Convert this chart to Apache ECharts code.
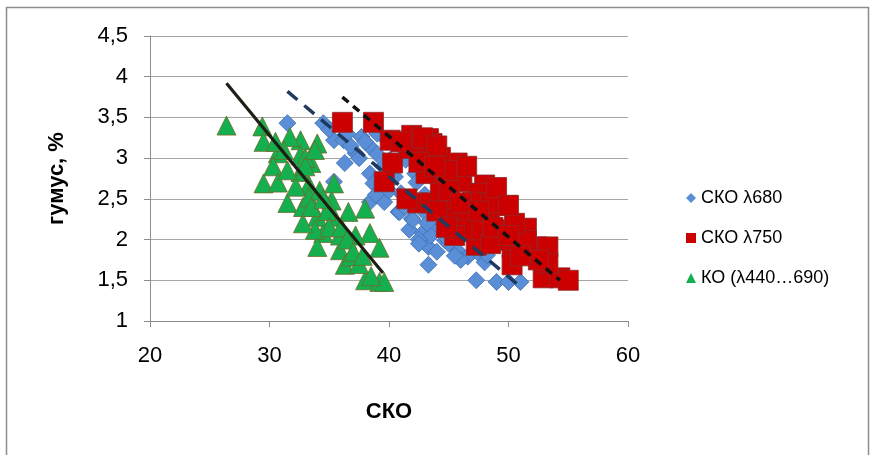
<!DOCTYPE html>
<html><head><meta charset="utf-8">
<script src="https://cdn.jsdelivr.net/npm/echarts@6/dist/echarts.min.js"></script>
<style>html,body{margin:0;padding:0;background:#fff}#c{width:873px;height:455px}</style>
</head><body><div id="c"></div>
<script>
const xTicks = [20, 30, 40, 50, 60];
const yTicks = [1, 1.5, 2, 2.5, 3, 3.5, 4, 4.5];
const seriesNames = ['СКО λ680', 'СКО λ750', 'КО (λ440…690)'];
const sko680 = [[31.5,3.43],[34.5,3.43],[35.4,3.22],[36.2,3.22],[37.7,3.26],[37.2,3.06],[38.4,3.14],[36.3,2.94],[38.4,2.81],[38.7,2.69],[35.4,2.71],[38.4,2.46],[39.6,2.46],[40.1,2.98],[40.5,2.77],[41,2.57],[40.8,2.34],[41.9,2.26],[41.7,2.12],[42.8,2.08],[43.3,1.91],[43.3,1.69],[44.2,2.15],[44.7,1.99],[45.7,1.87],[46.6,1.79],[47.5,1.83],[47.3,1.5],[49,1.48],[50,1.48],[51,1.48],[48,1.72],[42.8,2.36],[43.8,2.4],[41.9,2.48],[42.2,2.81],[42.3,2.7],[39.8,3.22],[41,3.14],[41.4,2.98],[45.2,2.15],[46.1,2.08],[45.7,2.24],[44.2,2.3],[35,3.35],[36.8,3.15],[39,3.05],[39.5,2.9],[37.5,3.0],[42,2.24],[40.9,2.34],[43.5,2.05],[44,1.85],[45,1.95],[46,1.75],[48.2,1.81],[42.5,2.0],[47,2.0],[43,2.55],[44.5,2.2],[38,3.2],[39,3.3],[36.5,3.3],[40,2.6],[41.3,2.4],[43.2,2.2],[44.6,2.05],[45.5,1.8],[42.5,1.95],[38.9,2.55]];
const sko750 = [[36.1,3.44],[38.7,3.44],[40.1,3.22],[41.9,3.28],[43.3,3.24],[40.3,2.94],[39.6,2.71],[45.7,2.94],[43.1,2.81],[44.7,2.73],[46.1,2.71],[48,2.67],[47.5,2.57],[42.4,2.45],[43.5,2.45],[45.4,2.33],[46.6,2.33],[49.9,2.42],[48.4,2.28],[51.5,2.14],[52.4,1.91],[50.3,1.9],[50.3,1.69],[52.9,1.53],[54.3,1.53],[55,1.5],[47.3,1.93],[47.5,2.12],[49.1,2.12],[46.1,2.12],[44.3,3.01],[42.8,3.1],[43.6,3.18],[44.3,2.57],[45.1,2.5],[49.4,1.99],[51.5,1.99],[53.3,1.91],[53.3,1.71],[47,2.46],[41.7,3.12],[42.8,3.25],[44,3.15],[44.8,2.85],[46.5,2.9],[48.5,2.45],[50.5,2.2],[52.5,1.75],[49,2.64],[50,2.42],[51,1.8],[48.5,1.95],[41,3.2],[42.5,2.95],[43.8,2.9],[45,2.6],[46,2.45],[47.5,2.35],[44,2.35],[45.5,2.05],[44.8,2.15],[48.7,2.15],[50,2.05],[41.5,2.5]];
const ko = [[26.4,3.4],[29.4,3.39],[29.5,3.2],[30.7,3.06],[30.3,2.9],[29.5,2.69],[30.7,2.7],[31.5,2.45],[32.8,2.4],[34,3.18],[32.6,3.22],[31.7,3.26],[34.5,2.08],[34,1.91],[35.9,1.87],[36.3,1.69],[38,2.38],[38.4,2.08],[39.2,1.9],[38,1.5],[39.2,1.48],[39.6,1.48],[36.8,1.79],[35.9,2.05],[37.2,2.05],[35.4,2.28],[36.6,2.34],[35.2,2.48],[35.4,2.69],[33.3,2.67],[32.6,2.83],[33.5,2.94],[32.6,3.04],[33.3,2.52],[34,2.28],[33.8,2.12],[32.8,2.2],[33,3.0],[31.2,3.1],[33,2.9],[34.2,2.6],[34.8,2.35],[35,2.15],[36,2.15],[36.5,2.0],[37,1.85],[37.5,1.7],[38.5,1.55],[37.8,1.8],[33.5,2.4],[34.5,2.5],[32.2,2.65],[31.5,2.85],[30.5,3.2],[33.8,3.1]];
const trend680 = [[31.5,3.82],[51,1.42]];
const trend750 = [[36.1,3.75],[54.3,1.5]];
const trendKO = [[26.4,3.92],[39.5,1.59]];

const chart = echarts.init(document.getElementById('c'), null, {renderer:'canvas'});
const F = 'Liberation Sans, Arial, sans-serif';
chart.setOption({
  animation: false,
  backgroundColor: '#fff',
  graphic: [{type:'rect', shape:{x:6.5,y:7.5,width:862,height:470}, style:{fill:'none', stroke:'#8c8c8c', lineWidth:1.5}, silent:true}],
  grid: {left:150, right:245, top:36, bottom:134},
  legend: {
    orient:'vertical', left:681, top:184, itemGap:22, itemWidth:10, itemHeight:10,
    itemStyle:{borderWidth:0},
    textStyle:{fontFamily:F, fontSize:18, color:'#000'},
    data: [
      {name: seriesNames[0], icon:'diamond'},
      {name: seriesNames[1], icon:'rect'},
      {name: seriesNames[2], icon:'triangle'}
    ]
  },
  xAxis: {
    type:'value', min:xTicks[0], max:xTicks[xTicks.length-1], interval:10,
    name:'СКО', nameLocation:'middle', nameGap:80,
    nameTextStyle:{fontFamily:F, fontSize:22, fontWeight:'bold', color:'#000'},
    axisLine:{show:true, lineStyle:{color:'#8c8c8c', width:1}},
    axisTick:{show:true, length:6, lineStyle:{color:'#8c8c8c'}},
    axisLabel:{fontFamily:F, fontSize:22, color:'#000', margin:24},
    splitLine:{show:false}
  },
  yAxis: {
    type:'value', min:yTicks[0], max:yTicks[yTicks.length-1], interval:0.5,
    name:'гумус, %', nameLocation:'middle', nameGap:82,
    nameTextStyle:{fontFamily:F, fontSize:22, fontWeight:'bold', color:'#000'},
    axisLine:{show:true, lineStyle:{color:'#8c8c8c', width:1}},
    axisTick:{show:true, length:6, lineStyle:{color:'#8c8c8c'}},
    axisLabel:{fontFamily:F, fontSize:22, color:'#000', margin:22, formatter: v => String(v).replace('.', ',')},
    splitLine:{show:true, lineStyle:{color:'#a6a6a6', width:1.2}}
  },
  series: [
    {name: seriesNames[0], type:'scatter', symbol:'diamond', symbolSize:17, data: sko680, z:2,
     itemStyle:{color:'#5A8FD8', borderColor:'#3D6CB0', borderWidth:0.8, opacity:1}},
    {name: seriesNames[1], type:'scatter', symbol:'rect', symbolSize:20, data: sko750, z:3,
     itemStyle:{color:'#CC0000', borderColor:'#8E2A2A', borderWidth:0.8, opacity:1}},
    {name: seriesNames[2], type:'scatter', symbol:'triangle', symbolSize:19, data: ko, z:4,
     itemStyle:{color:'#14B050', borderColor:'#6E6A2A', borderWidth:0.8, opacity:1}},
    {type:'line', data: trend680, symbol:'none', z:5, lineStyle:{color:'#1F3A5F', width:3.5, type:[13,9]}},
    {type:'line', data: trend750, symbol:'none', z:5, lineStyle:{color:'#111', width:3.5, type:[8,6]}},
    {type:'line', data: trendKO, symbol:'none', z:5, lineStyle:{color:'#1e1e14', width:3.2}}
  ]
});
</script></body></html>
